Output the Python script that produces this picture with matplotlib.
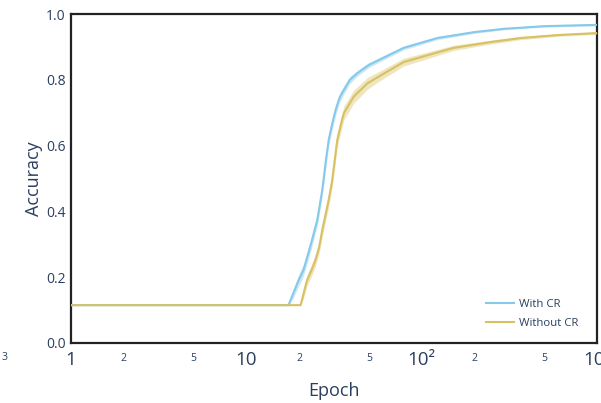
import matplotlib
matplotlib.use("Agg")
import matplotlib.pyplot as plt
from matplotlib.ticker import FixedLocator, FixedFormatter
import numpy as np

plt.rcParams['font.family'] = ['Open Sans', 'DejaVu Sans']

TEXT = '#2a3f5f'
BLUE = '#86c9ea'
GOLD = '#d7c163'

# Training accuracy per epoch (mean and spread over runs)
epochs_cr = [1, 17.4, 18.5, 19.9, 21.2, 22.5, 23.7, 25.4, 27.1, 27.7, 28.5, 29.5,
             31, 32.3, 34, 36, 39, 43, 50, 57, 79, 123, 200, 295, 500, 1000]
acc_cr = [0.115, 0.115, 0.15, 0.191, 0.222, 0.27, 0.313, 0.374, 0.465, 0.505, 0.56, 0.617,
          0.67, 0.708, 0.745, 0.769, 0.80, 0.82, 0.845, 0.86, 0.897, 0.927, 0.945, 0.955,
          0.963, 0.967]
spread_cr = [0.0, 0.0, 0.014, 0.018, 0.018, 0.019, 0.019, 0.019, 0.02, 0.02, 0.02, 0.019,
             0.018, 0.017, 0.015, 0.013, 0.011, 0.009, 0.008, 0.007, 0.006, 0.005, 0.004, 0.003,
             0.003, 0.003]

epochs_nocr = [1, 20.4, 21.2, 22.2, 23.5, 24.8, 26, 27.1, 28.3, 29.5, 30.9, 32, 33, 34.5,
               36, 41, 49, 57, 79, 152, 250, 368, 600, 1000]
acc_nocr = [0.115, 0.115, 0.15, 0.191, 0.22, 0.252, 0.29, 0.343, 0.39, 0.435, 0.495, 0.56,
            0.617, 0.66, 0.699, 0.749, 0.789, 0.81, 0.854, 0.897, 0.915, 0.927, 0.936, 0.942]
spread_nocr = [0.0, 0.0, 0.014, 0.017, 0.018, 0.019, 0.019, 0.02, 0.021, 0.021, 0.022, 0.022,
               0.022, 0.022, 0.021, 0.02, 0.018, 0.015, 0.012, 0.008, 0.006, 0.005, 0.004, 0.004]

series = [("With CR", epochs_cr, acc_cr, spread_cr, BLUE),
          ("Without CR", epochs_nocr, acc_nocr, spread_nocr, GOLD)]

fig = plt.figure(figsize=(6.01, 4.03), dpi=100)
ax = fig.add_axes([71 / 601, 1 - 343 / 403, (597 - 71) / 601, (343 - 14) / 403])

for i, (name, x, y, s, c) in enumerate(series):
    x = np.asarray(x); y = np.asarray(y); s = np.asarray(s)
    ax.fill_between(x, y - s, y + s, color=c, alpha=0.4, lw=0, zorder=2 + i)
    ax.plot(x, y, color=c, lw=1.5, label=name, zorder=3 + i)

ax.set_xscale('log')
ax.set_xlim(1, 1000)
ax.set_ylim(0, 1)

ax.xaxis.set_major_locator(FixedLocator([1, 10, 100, 1000]))
ax.xaxis.set_major_formatter(FixedFormatter(['1', '10', '10²', '10³']))
ax.xaxis.set_minor_locator(FixedLocator([2, 5, 20, 50, 200, 500]))
ax.xaxis.set_minor_formatter(FixedFormatter(['2', '5', '2', '5', '2', '5']))
ax.set_yticks([0, 0.2, 0.4, 0.6, 0.8, 1.0])
ax.set_yticklabels(['0.0', '0.2', '0.4', '0.6', '0.8', '1.0'])

ax.tick_params(axis='x', which='major', length=0, pad=6, labelsize=13.5, labelcolor=TEXT)
ax.tick_params(axis='x', which='minor', length=0, pad=7, labelsize=7.5, labelcolor=TEXT)
ax.tick_params(axis='y', length=0, pad=4, labelsize=10, labelcolor=TEXT)

for sp in ax.spines.values():
    sp.set_color('#222222')
    sp.set_linewidth(1.6)

ax.set_xlabel('Epoch', fontsize=13, color=TEXT, labelpad=9)
ax.set_ylabel('Accuracy', fontsize=13, color=TEXT, labelpad=2)

leg = ax.legend(loc='lower right', bbox_to_anchor=(0.985, 0.01), frameon=False,
                fontsize=8.2, labelcolor=TEXT, handlelength=2.4, handletextpad=0.5,
                labelspacing=0.75)

fig.text(5 / 601, 1 - 357 / 403, '3', fontsize=7.5, color=TEXT, ha='center', va='center')

fig.savefig('out.png', dpi=100)
